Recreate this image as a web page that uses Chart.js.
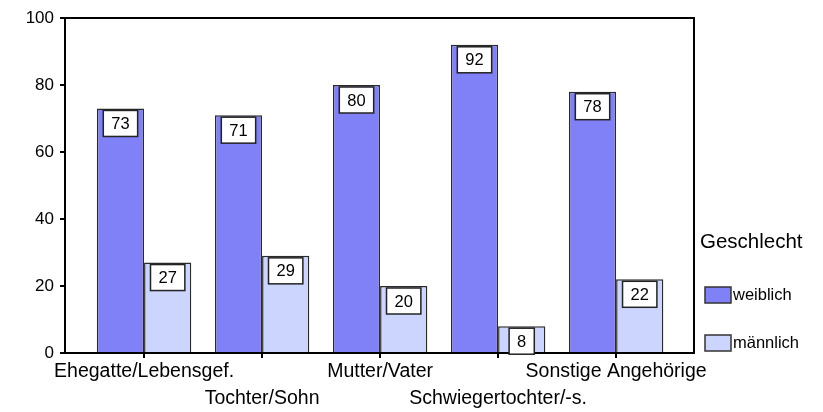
<!DOCTYPE html>
<html>
<head>
<meta charset="utf-8">
<script src="https://cdn.jsdelivr.net/npm/chart.js@4.4.0/dist/chart.umd.min.js"></script>
<style>
  html, body { margin: 0; padding: 0; background: #fff; }
  #wrap { width: 823px; height: 412px; }
</style>
</head>
<body>
<div id="wrap"><canvas id="my_chart"></canvas></div>
<script>
const categories = ["Ehegatte/Lebensgef.", "Tochter/Sohn", "Mutter/Vater", "Schwiegertochter/-s.", "Sonstige Angehörige"];
const weiblich = [73, 71, 80, 92, 78];
const maennlich = [27, 29, 20, 8, 22];
const yTicks = [0, 20, 40, 60, 80, 100];
const legendTitle = "Geschlecht";

const FONT = "'Liberation Sans', Arial, sans-serif";

// frame around plot area (top + right lines)
const frame = {
    id: "frame",
    afterDraw(chart) {
        const { ctx, chartArea: a } = chart;
        ctx.save();
        ctx.strokeStyle = "#000";
        ctx.lineWidth = 2;
        ctx.beginPath();
        ctx.moveTo(a.left, a.top);
        ctx.lineTo(a.right, a.top);
        ctx.lineTo(a.right, a.bottom);
        ctx.stroke();
        ctx.restore();
    }
};

// white value boxes near top of each bar
const valueBoxes = {
    id: "valueBoxes",
    afterDatasetsDraw(chart) {
        const ctx = chart.ctx;
        ctx.save();
        ctx.font = "16.5px " + FONT;
        ctx.textAlign = "center";
        ctx.textBaseline = "middle";
        chart.data.datasets.forEach((ds, di) => {
            chart.getDatasetMeta(di).data.forEach((bar, i) => {
                const txt = String(ds.data[i].y);
                const w = ctx.measureText(txt).width + 16;
                const h = 26;
                const x = bar.x - w / 2;
                const y = bar.y + 2;
                ctx.fillStyle = "#fff";
                ctx.fillRect(x, y, w, h);
                ctx.strokeStyle = "#222";
                ctx.lineWidth = 1.5;
                ctx.strokeRect(x, y, w, h);
                ctx.fillStyle = "#000";
                ctx.fillText(txt, bar.x, y + h / 2 + 1);
            });
        });
        ctx.restore();
    }
};

// legend at the right side
const sideLegend = {
    id: "sideLegend",
    afterDraw(chart) {
        const ctx = chart.ctx;
        ctx.save();
        ctx.fillStyle = "#000";
        ctx.textBaseline = "middle";
        ctx.textAlign = "left";
        ctx.font = "20.5px " + FONT;
        ctx.fillText(legendTitle, 700, 242);
        const rows = [295, 343];
        chart.data.datasets.forEach((ds, i) => {
            const cy = rows[i];
            ctx.fillStyle = ds.backgroundColor;
            ctx.fillRect(705, cy - 8, 26, 16);
            ctx.strokeStyle = "#333";
            ctx.lineWidth = 1.5;
            ctx.strokeRect(705, cy - 8, 26, 16);
            ctx.fillStyle = "#000";
            ctx.font = "16.5px " + FONT;
            ctx.fillText(ds.label, 733, cy);
        });
        ctx.restore();
    }
};

const info = {
    datasets: [
        {
            label: "weiblich",
            data: weiblich.map((v, i) => ({ x: i, y: v })),
            backgroundColor: "#8080f7",
            borderColor: "#2a2a2a",
            borderWidth: 1.5,
            categoryPercentage: 0.8,
            barPercentage: 1
        },
        {
            label: "männlich",
            data: maennlich.map((v, i) => ({ x: i, y: v })),
            backgroundColor: "#ccd5fe",
            borderColor: "#2a2a2a",
            borderWidth: 1.5,
            categoryPercentage: 0.8,
            barPercentage: 1
        }
    ]
};

const options = {
    responsive: true,
    maintainAspectRatio: false,
    animation: false,
    layout: { padding: { top: 18, right: 129, left: 0, bottom: 0 } },
    scales: {
        x: {
            type: "linear",
            offset: false,
            min: -0.67,
            max: 4.66,
            afterBuildTicks: (scale) => {
                scale.ticks = categories.map((_, i) => ({ value: i }));
            },
            afterFit: (scale) => { scale.height = 59; },
            ticks: {
                autoSkip: false,
                maxRotation: 0,
                color: "#000",
                padding: 0,
                font: { family: FONT, size: 19.5, lineHeight: "27px" },
                callback: (v) => (v % 2 ? ["", categories[v]] : categories[v])
            },
            grid: { offset: false, drawOnChartArea: false, drawTicks: true, tickLength: 5, color: "#000", lineWidth: 2 },
            border: { display: true, color: "#000", width: 2 }
        },
        y: {
            min: 0,
            max: 100,
            afterBuildTicks: (scale) => {
                scale.ticks = yTicks.map((v) => ({ value: v }));
            },
            afterFit: (scale) => { scale.width = 65; },
            ticks: {
                color: "#000",
                padding: 6,
                font: { family: FONT, size: 17 }
            },
            grid: { drawOnChartArea: false, drawTicks: true, tickLength: 5, color: "#000", lineWidth: 2 },
            border: { display: true, color: "#000", width: 2 }
        }
    },
    plugins: {
        legend: { display: false },
        tooltip: { enabled: false }
    }
};

const config = {
    type: "bar",
    data: info,
    options,
    plugins: [frame, valueBoxes, sideLegend]
};
const myChart = new Chart(document.getElementById("my_chart"), config);
</script>
</body>
</html>
